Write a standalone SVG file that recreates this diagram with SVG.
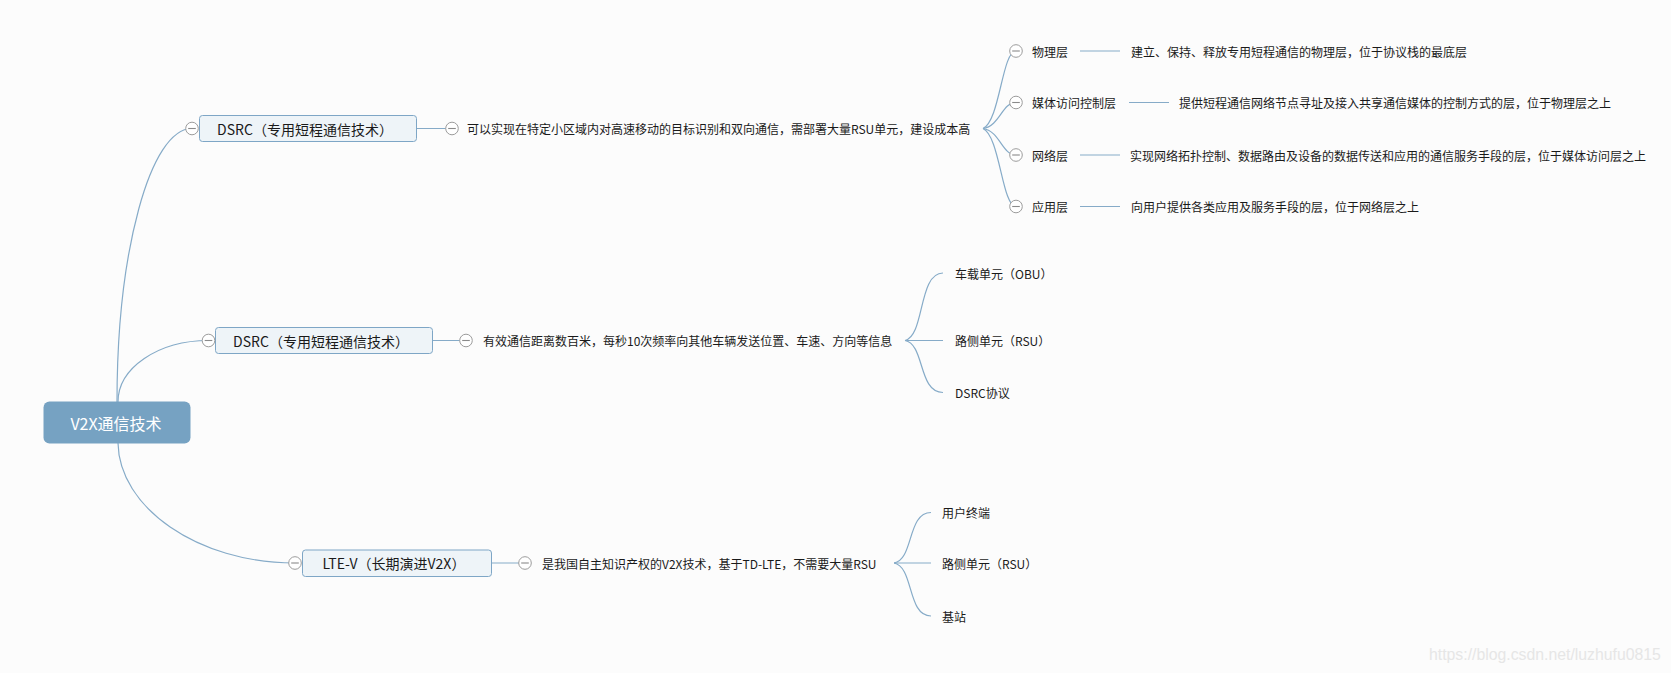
<svg xmlns="http://www.w3.org/2000/svg" xmlns:xlink="http://www.w3.org/1999/xlink" width="1671" height="673" viewBox="0 0 1671 673">
<style>
.bg{fill:#fcfcfc}
.ln{fill:none;stroke:#86abc8;stroke-width:1.2}
.box{fill:#eef4f8;stroke:#7ea6c6;stroke-width:1}
.root{fill:#76a2c2}
text{font-family:"Noto Sans CJK SC","Microsoft YaHei",sans-serif;dominant-baseline:central}
.t{font-size:12px;fill:#1a1a1a}
.tb{font-size:14px;fill:#1a1a1a;text-anchor:middle}
.tr{font-size:16px;fill:#ffffff;text-anchor:middle}
.wm{font-family:"Liberation Sans",Arial,sans-serif;font-size:15.8px;fill:#e6e6e6;dominant-baseline:alphabetic}
</style>
<defs>
<g id="tog"><circle cx="0" cy="0" r="6.3" fill="#ffffff" stroke="#9c9c9c" stroke-width="1"/><line x1="-3.8" y1="0" x2="3.8" y2="0" stroke="#8a8a8a" stroke-width="1.1"/></g>
</defs>
<rect class="bg" x="0" y="0" width="1671" height="673"/>
<g id="connectors">
<path class="ln" d="M117,402 C117,252 150,128.5 192,128.5"/>
<path class="ln" d="M118,402 C118,368 158,340.5 208.5,340.5"/>
<path class="ln" d="M118,443 C119,507 197,563 295,563"/>
<line class="ln" x1="416.5" y1="128.5" x2="452" y2="128.5"/>
<line class="ln" x1="432.5" y1="340.5" x2="466" y2="340.5"/>
<line class="ln" x1="491.5" y1="563" x2="525" y2="563"/>
<path class="ln" d="M983,128.5 C1000,120.8 1002,51 1016,51"/>
<path class="ln" d="M983,128.5 C1000,125.9 1002,102.5 1016,102.5"/>
<path class="ln" d="M983,128.5 C1000,131.2 1002,155 1016,155"/>
<path class="ln" d="M983,128.5 C1000,136.3 1002,206.5 1016,206.5"/>
<line class="ln" x1="1080" y1="51" x2="1120" y2="51"/>
<line class="ln" x1="1129" y1="102.5" x2="1169" y2="102.5"/>
<line class="ln" x1="1080" y1="155" x2="1120" y2="155"/>
<line class="ln" x1="1080" y1="206.5" x2="1120" y2="206.5"/>
<path class="ln" d="M905,340.5 C925,335.8 918,273 943,273"/>
<path class="ln" d="M905,340.5 L943,340.5"/>
<path class="ln" d="M905,340.5 C925,344.1 918,392.5 943,392.5"/>
<path class="ln" d="M894,563 C914,559.5 907,512.5 931,512.5"/>
<path class="ln" d="M894,563 L931,563"/>
<path class="ln" d="M894,563 C914,566.7 907,616 931,616"/>
</g>
<g id="root">
<rect class="root" x="43.5" y="401.5" width="147" height="42" rx="6"/>
<text class="tr" x="116" y="423">V2X通信技术</text>
</g>
<g id="dsrc1">
<rect class="box" x="199.5" y="115.5" width="217" height="26" rx="3"/>
<text class="tb" x="305" y="128.5">DSRC（专用短程通信技术）</text>
<use xlink:href="#tog" x="192" y="128.5"/>
</g>
<g id="dsrc1-desc">
<use xlink:href="#tog" x="452" y="128.5"/>
<text class="t" x="467" y="128.5">可以实现在特定小区域内对高速移动的目标识别和双向通信，需部署大量RSU单元，建设成本高</text>
</g>
<g id="phy">
<use xlink:href="#tog" x="1016" y="51"/>
<text class="t" x="1032" y="51">物理层</text>
</g>
<g id="phy-desc"><text class="t" x="1131" y="51">建立、保持、释放专用短程通信的物理层，位于协议栈的最底层</text></g>
<g id="mac">
<use xlink:href="#tog" x="1016" y="102.5"/>
<text class="t" x="1032" y="102.5">媒体访问控制层</text>
</g>
<g id="mac-desc"><text class="t" x="1179" y="102.5">提供短程通信网络节点寻址及接入共享通信媒体的控制方式的层，位于物理层之上</text></g>
<g id="net">
<use xlink:href="#tog" x="1016" y="155"/>
<text class="t" x="1032" y="155">网络层</text>
</g>
<g id="net-desc"><text class="t" x="1130" y="155">实现网络拓扑控制、数据路由及设备的数据传送和应用的通信服务手段的层，位于媒体访问层之上</text></g>
<g id="app">
<use xlink:href="#tog" x="1016" y="206.5"/>
<text class="t" x="1032" y="206.5">应用层</text>
</g>
<g id="app-desc"><text class="t" x="1131" y="206.5">向用户提供各类应用及服务手段的层，位于网络层之上</text></g>
<g id="dsrc2">
<rect class="box" x="215.5" y="327.5" width="217" height="26" rx="3"/>
<text class="tb" x="321" y="340.5">DSRC（专用短程通信技术）</text>
<use xlink:href="#tog" x="208.5" y="340.5"/>
</g>
<g id="dsrc2-desc">
<use xlink:href="#tog" x="466" y="340.5"/>
<text class="t" x="483" y="340.5">有效通信距离数百米，每秒10次频率向其他车辆发送位置、车速、方向等信息</text>
</g>
<g id="obu"><text class="t" x="955" y="273">车载单元（OBU）</text></g>
<g id="rsu1"><text class="t" x="955" y="340.5">路侧单元（RSU）</text></g>
<g id="dsrcp"><text class="t" x="955" y="392.5">DSRC协议</text></g>
<g id="ltev">
<rect class="box" x="302.5" y="550" width="189" height="26.5" rx="3"/>
<text class="tb" x="394" y="563">LTE-V（长期演进V2X）</text>
<use xlink:href="#tog" x="295" y="563"/>
</g>
<g id="ltev-desc">
<use xlink:href="#tog" x="525" y="563"/>
<text class="t" x="542" y="563">是我国自主知识产权的V2X技术，基于TD-LTE，不需要大量RSU</text>
</g>
<g id="ue"><text class="t" x="942" y="512.5">用户终端</text></g>
<g id="rsu2"><text class="t" x="942" y="563">路侧单元（RSU）</text></g>
<g id="bs"><text class="t" x="942" y="616">基站</text></g>
<text class="wm" x="1429" y="660">https://blog.csdn.net/luzhufu0815</text>
</svg>
